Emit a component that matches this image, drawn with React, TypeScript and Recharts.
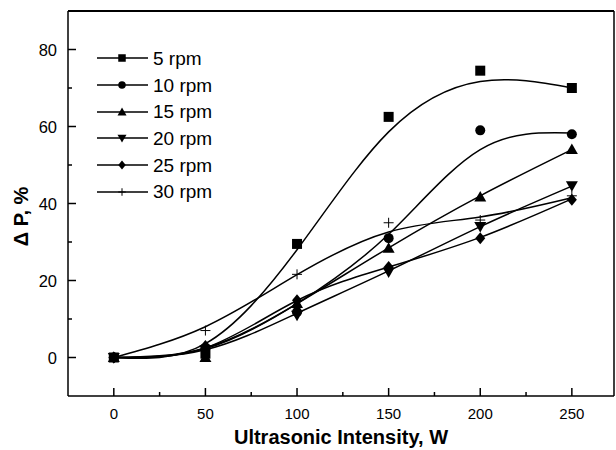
import React from "react";
import {
  ComposedChart,
  Line,
  Scatter,
  XAxis,
  YAxis,
  Legend,
  ReferenceLine,
} from "recharts";

// measured points, one array per rotation speed
const intensity = [0, 50, 100, 150, 200, 250];
const p5 = [0, 1, 29.5, 62.5, 74.5, 70];
const p10 = [0, 2.5, 11.8, 31, 59, 58];
const p15 = [0, 0, 14, 28.4, 41.7, 54];
const p20 = [0, 2, 11, 22.2, 34, 44.6];
const p25 = [0, 3, 14.9, 23.5, 31, 41];
const p30 = [0, 7, 21.6, 35, 35.7, 42];

// fitted curves at the same intensities
const fit5 = [0, 3.6, 28, 58.6, 71.7, 70];
const fit10 = [0, 2.3, 14, 32, 54, 58.3];
const fit15 = [0, 2.5, 14, 28.5, 42, 54];
const fit20 = [0, 2, 11.5, 22.5, 34, 44.5];
const fit25 = [0, 2.5, 14.8, 23.5, 31.2, 41.2];
const fit30 = [0, 8, 21.5, 32.6, 36.5, 41.5];

const seriesNames = ["5 rpm", "10 rpm", "15 rpm", "20 rpm", "25 rpm", "30 rpm"];
const markerKinds = ["square", "circle", "up", "down", "diamond", "plus"];

const xTicks = [0, 25, 50, 75, 100, 125, 150, 175, 200, 225, 250];
const xLabels = [0, 50, 100, 150, 200, 250];
const yTicks = [0, 10, 20, 30, 40, 50, 60, 70, 80];
const yLabels = [0, 20, 40, 60, 80];

const FONT = "'Liberation Sans', Arial, sans-serif";

const toPoints = (ys: number[]) => intensity.map((x, i) => ({ x, y: ys[i] }));

const measured = [p5, p10, p15, p20, p25, p30];
const fitted = [fit5, fit10, fit15, fit20, fit25, fit30];

function Marker({ cx, cy, kind, s }: { cx: number; cy: number; kind: string; s: number }) {
  if (kind === "square")
    return <rect x={cx - s / 2} y={cy - s / 2} width={s} height={s} fill="#000" />;
  if (kind === "circle") return <circle cx={cx} cy={cy} r={s / 2} fill="#000" />;
  if (kind === "up")
    return (
      <polygon
        points={`${cx},${cy - s * 0.6} ${cx - s * 0.6},${cy + s * 0.45} ${cx + s * 0.6},${cy + s * 0.45}`}
        fill="#000"
      />
    );
  if (kind === "down")
    return (
      <polygon
        points={`${cx},${cy + s * 0.6} ${cx - s * 0.6},${cy - s * 0.45} ${cx + s * 0.6},${cy - s * 0.45}`}
        fill="#000"
      />
    );
  if (kind === "diamond")
    return (
      <polygon
        points={`${cx},${cy - s * 0.6} ${cx + s * 0.5},${cy} ${cx},${cy + s * 0.6} ${cx - s * 0.5},${cy}`}
        fill="#000"
      />
    );
  return (
    <g stroke="#000" strokeWidth={1}>
      <line x1={cx - s / 2} y1={cy} x2={cx + s / 2} y2={cy} />
      <line x1={cx} y1={cy - s / 2} x2={cx} y2={cy + s / 2} />
    </g>
  );
}

const XTick = (props: any) => {
  const { x, y, payload } = props;
  const major = xLabels.includes(payload.value);
  return (
    <g>
      <line x1={x} y1={y} x2={x} y2={y - (major ? 8 : 4)} stroke="#000" strokeWidth={1.5} />
      {major && (
        <text x={x} y={y + 23} textAnchor="middle" fontSize={15} fontFamily={FONT} fill="#000">
          {payload.value}
        </text>
      )}
    </g>
  );
};

const YTick = (props: any) => {
  const { x, y, payload } = props;
  const major = yLabels.includes(payload.value);
  return (
    <g>
      <line x1={x} y1={y} x2={x + (major ? 8 : 4)} y2={y} stroke="#000" strokeWidth={1.5} />
      {major && (
        <text x={x - 11} y={y + 6} textAnchor="end" fontSize={16.5} fontFamily={FONT} fill="#000">
          {payload.value}
        </text>
      )}
    </g>
  );
};

const XTitle = (props: any) => {
  const { viewBox } = props;
  return (
    <text
      x={viewBox.x + viewBox.width / 2}
      y={viewBox.y + 48}
      textAnchor="middle"
      fontSize={20}
      fontWeight="bold"
      fontFamily={FONT}
      fill="#000"
    >
      Ultrasonic Intensity, W
    </text>
  );
};

const YTitle = (props: any) => {
  const { viewBox } = props;
  const cx = viewBox.x + viewBox.width - 47;
  const cy = viewBox.y + viewBox.height / 2 + 13;
  return (
    <text
      x={cx}
      y={cy}
      transform={`rotate(-90, ${cx}, ${cy})`}
      textAnchor="middle"
      dominantBaseline="central"
      fontSize={20}
      fontWeight="bold"
      fontFamily={FONT}
      fill="#000"
    >
      Δ P, %
    </text>
  );
};

const LegendBox = () => (
  <div style={{ fontFamily: FONT, fontSize: 19, color: "#000" }}>
    {seriesNames.map((name, i) => (
      <div key={name} style={{ display: "flex", alignItems: "center", height: 26.7 }}>
        <svg width={56} height={16} style={{ display: "block" }}>
          <line x1={0} y1={8} x2={51} y2={8} stroke="#000" strokeWidth={1.5} />
          <Marker cx={25} cy={8} kind={markerKinds[i]} s={7.5} />
        </svg>
        <span style={{ lineHeight: "19px" }}>{name}</span>
      </div>
    ))}
  </div>
);

export default function App() {
  return (
    <div style={{ position: "absolute", left: 0, top: 0, background: "#fff" }}>
      <ComposedChart
        width={616}
        height={450}
        margin={{ top: 11, right: 2, bottom: 53, left: 67 }}
      >
        <XAxis
          type="number"
          dataKey="x"
          domain={[-25, 273]}
          allowDataOverflow
          ticks={xTicks}
          interval={0}
          height={1}
          tickSize={0}
          tickMargin={0}
          tickLine={false}
          tick={XTick}
          axisLine={{ stroke: "#000", strokeWidth: 1.5 }}
          label={XTitle}
        />
        <YAxis
          type="number"
          dataKey="y"
          domain={[-10, 90]}
          allowDataOverflow
          ticks={yTicks}
          interval={0}
          width={1}
          tickSize={0}
          tickMargin={0}
          tickLine={false}
          tick={YTick}
          axisLine={{ stroke: "#000", strokeWidth: 1.5 }}
          label={YTitle}
        />
        <ReferenceLine y={90} stroke="#000" strokeWidth={2} />
        <ReferenceLine x={273} stroke="#000" strokeWidth={1.5} />
        {fitted.map((ys, i) => (
          <Line
            key={"fit" + i}
            data={toPoints(ys)}
            dataKey="y"
            type="natural"
            stroke="#000"
            strokeWidth={1.5}
            dot={false}
            activeDot={false}
            legendType="none"
            isAnimationActive={false}
          />
        ))}
        {measured.map((ys, i) => (
          <Scatter
            key={seriesNames[i]}
            name={seriesNames[i]}
            data={toPoints(ys)}
            dataKey="y"
            isAnimationActive={false}
            shape={(p: any) => <Marker cx={p.cx} cy={p.cy} kind={markerKinds[i]} s={10} />}
          />
        ))}
        <Legend
          layout="horizontal"
          verticalAlign="middle"
          align="center"
          wrapperStyle={{ position: "absolute", left: 97, top: 45, width: "auto" }}
          content={LegendBox}
        />
      </ComposedChart>
    </div>
  );
}
